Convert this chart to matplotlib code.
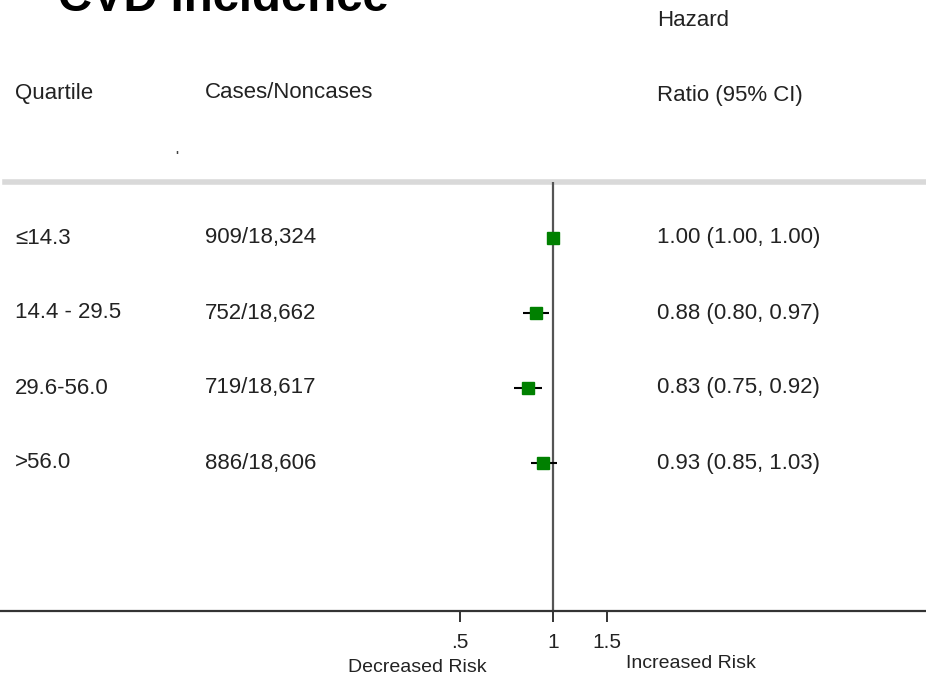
import numpy as np
import matplotlib.pyplot as plt
from matplotlib.transforms import blended_transform_factory

plt.rcParams['font.family'] = ['Liberation Sans', 'DejaVu Sans']

# Table contents
quartiles = ["≤14.3", "14.4 - 29.5", "29.6-56.0", ">56.0"]
cases = ["909/18,324", "752/18,662", "719/18,617", "886/18,606"]
hr = [1.00, 0.88, 0.83, 0.93]
ci_low = [1.00, 0.80, 0.75, 0.85]
ci_high = [1.00, 0.97, 0.92, 1.03]
xticks = [0.5, 1, 1.5]
xtick_labels = [".5", "1", "1.5"]

W, H = 926, 686
fig = plt.figure(figsize=(W / 100, H / 100), dpi=100)

# Plot panel spans the full width; top edge at the grey rule, bottom at the axis
top_px, bot_px = 182, 611
ax = fig.add_axes([0, 1 - bot_px / H, 1, (bot_px - top_px) / H])
ax.set_xscale('log')
ref_px, px_per_ln = 553, 134
ax.set_xlim(np.exp(-ref_px / px_per_ln), np.exp((W - ref_px) / px_per_ln))
row0_px, row_step = 238, 75
ax.set_ylim((bot_px - row0_px) / row_step, (top_px - row0_px) / row_step)

rows = np.arange(len(quartiles))

for side in ['top', 'right', 'left']:
    ax.spines[side].set_visible(False)
ax.spines['bottom'].set_color('#333333')
ax.spines['bottom'].set_linewidth(1.6)

ax.minorticks_off()
ax.set_xticks(xticks)
ax.set_xticklabels(xtick_labels, fontsize=15, color='#222222')
ax.tick_params(axis='x', which='both', length=8, width=1.4, color='#333333', pad=8)
ax.tick_params(axis='x', which='minor', length=0)
ax.set_yticks([])

# Grey rule under the header
ax.axhline(ax.get_ylim()[1], xmin=5 / W, xmax=1, color='#d9d9d9', lw=4, clip_on=False)
# Reference line at HR = 1
ax.axvline(1, color='#555555', lw=1.6)

# Confidence intervals and point estimates
ax.hlines(rows, ci_low, ci_high, color='black', lw=1.5, zorder=3)
ax.plot(hr, rows, 's', color='#008000', ms=8, zorder=4)

# Table columns
tr = blended_transform_factory(ax.transAxes, ax.transData)
txt_kw = dict(fontsize=16, color='#222222', va='center', transform=tr)
for i in rows:
    ax.text(15 / W, i, quartiles[i], **txt_kw)
    ax.text(205 / W, i, cases[i], **txt_kw)
    ax.text(657 / W, i, f"{hr[i]:.2f} ({ci_low[i]:.2f}, {ci_high[i]:.2f})", **txt_kw)

hdr_kw = dict(fontsize=16, color='#222222', va='center')
fig.text(15 / W, 1 - 93 / H, "Quartile", **hdr_kw)
fig.text(205 / W, 1 - 93 / H, "Cases/Noncases", **hdr_kw)
fig.text(657 / W, 1 - 95 / H, "Ratio (95% CI)", **hdr_kw)
fig.text(657 / W, 1 - 20 / H, "Hazard", **hdr_kw)
fig.text(177 / W, 1 - 157 / H, "'", fontsize=9, fontweight='bold', color='#444444',
         ha='center', va='center')

# Title
fig.text(58 / W, 1 - 11 / H, "CVD Incidence", fontsize=34, fontweight='bold',
         color='black', va='baseline')

# Direction labels
fig.text(417 / W, 1 - 667 / H, "Decreased Risk", fontsize=14, color='#222222',
         ha='center', va='center')
fig.text(691 / W, 1 - 664 / H, "Increased Risk", fontsize=14, color='#222222',
         ha='center', va='center')

fig.savefig('out.png', dpi=100)
